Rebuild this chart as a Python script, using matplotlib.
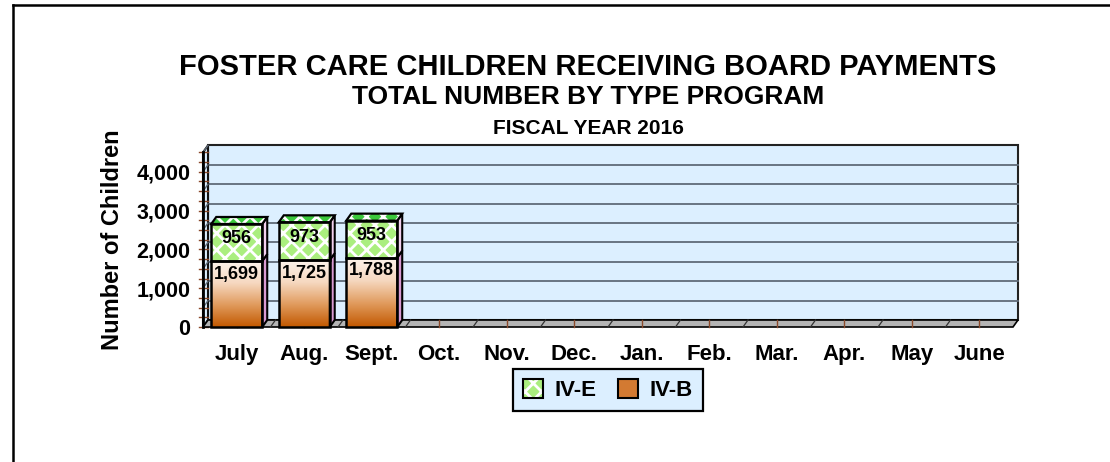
import numpy as np
import matplotlib
matplotlib.use('Agg')
import matplotlib.pyplot as plt
from matplotlib.patches import Rectangle, Polygon, Patch
from matplotlib.legend_handler import HandlerTuple
from matplotlib.colors import LinearSegmentedColormap
from matplotlib.lines import Line2D

# ---------------- data ----------------
months = ['July', 'Aug.', 'Sept.', 'Oct.', 'Nov.', 'Dec.',
          'Jan.', 'Feb.', 'Mar.', 'Apr.', 'May', 'June']
iv_b = [1699, 1725, 1788]
iv_e = [956, 973, 953]
series_names = ['IV-E', 'IV-B']
yticks = [0, 1000, 2000, 3000, 4000]
ytick_labels = ['0', '1,000', '2,000', '3,000', '4,000']
title1 = 'FOSTER CARE CHILDREN RECEIVING BOARD PAYMENTS'
title2 = 'TOTAL NUMBER BY TYPE PROGRAM'
title3 = 'FISCAL YEAR 2016'
ylabel = 'Number of Children'
ymax = 4500
grid_step = 500
minor_step = 250

# ---------------- style ----------------
plt.rcParams['font.family'] = ['Liberation Sans', 'DejaVu Sans']
plt.rcParams['font.weight'] = 'bold'
plt.rcParams['hatch.linewidth'] = 2.0

W, H = 1110, 462
fig = plt.figure(figsize=(W / 100, H / 100), dpi=100)
fig.patch.set_facecolor('white')

# front plane of the pseudo-3D box (pixel coords, from top)
L, R, B, T = 203, 1013, 327, 152.4
ax = fig.add_axes([L / W, (H - B) / H, (R - L) / W, (B - T) / H])
n = len(months)
ax.set_xlim(-0.5, n - 0.5)
ax.set_ylim(0, ymax)
for s in ax.spines.values():
    s.set_visible(False)
ax.patch.set_visible(False)

px_x = (R - L) / n          # pixels per category
px_y = (B - T) / ymax       # pixels per unit
dx = 5 / px_x               # depth offset in data units
dy = 7 / px_y

wall_c = '#dcefff'
grid_c = '#5f6b78'
floor_c = '#b4b4b4'
tick_c = '#8b4a2b'
x0w, x1w = -0.5, n - 0.5

# back wall
ax.add_patch(Rectangle((x0w + dx, dy), n, ymax, facecolor=wall_c,
                       edgecolor='#222222', lw=1.5, zorder=1, clip_on=False))
# gridlines on back wall
for v in range(grid_step, ymax, grid_step):
    ax.plot([x0w + dx, x1w + dx], [v + dy, v + dy], color=grid_c, lw=1.3,
            zorder=2, clip_on=False)
# left side wall
ax.add_patch(Polygon([(x0w, 0), (x0w + dx, dy), (x0w + dx, ymax + dy), (x0w, ymax)],
                     closed=True, facecolor=wall_c, edgecolor='#111111', lw=1.5,
                     zorder=2, clip_on=False))
for v in range(0, ymax + 1, grid_step):
    ax.plot([x0w, x0w + dx], [v, v + dy], color=grid_c, lw=1.0, zorder=2.5, clip_on=False)
for v in range(0, ymax + 1, minor_step):
    ax.plot([x0w - 4 / px_x, x0w + dx], [v, v], color=tick_c, lw=1.0, zorder=2.6,
            clip_on=False)
ax.plot([x0w, x0w], [0, ymax], color='black', lw=2.0, zorder=2.7, clip_on=False)

# floor
ax.add_patch(Polygon([(x0w, 0), (x1w, 0), (x1w + dx, dy), (x0w + dx, dy)], closed=True,
                     facecolor=floor_c, edgecolor='black', lw=1.2, zorder=3, clip_on=False))
for k in range(1, n):
    ax.plot([k - 0.5, k - 0.5 + dx], [0, dy], color='#333333', lw=0.9, zorder=3.1,
            clip_on=False)
for k in range(n):
    ax.plot([k, k], [0, dy], color=tick_c, lw=1.0, zorder=3.1, clip_on=False)

# ---------------- bars ----------------
cmap = LinearSegmentedColormap.from_list('ivb', ['#c25800', '#e09a5c', '#f6d8c0', '#fdf3ec'])
grad = np.linspace(0, 1, 256).reshape(-1, 1)
bw = 0.755
green = '#aaee7e'
green_top = '#3cc83c'
for i, (b, e) in enumerate(zip(iv_b, iv_e)):
    xa, xb = i - bw / 2, i + bw / 2
    t = b + e
    # IV-B front (gradient)
    im = ax.imshow(grad, extent=(xa, xb, 0, b), origin='lower', cmap=cmap,
                   aspect='auto', zorder=4, interpolation='bilinear')
    clip = Rectangle((xa, 0), bw, b, transform=ax.transData, facecolor='none',
                     edgecolor='none')
    im.set_clip_path(clip)
    ax.add_patch(Rectangle((xa, 0), bw, b, facecolor='none', edgecolor='black',
                           lw=1.8, zorder=5, clip_on=False))
    # IV-B side
    ax.add_patch(Polygon([(xb, 0), (xb + dx, dy), (xb + dx, b + dy), (xb, b)], closed=True,
                         facecolor='#d99ad2', edgecolor='black', lw=1.5, zorder=4.5,
                         clip_on=False))
    # IV-E front
    ax.add_patch(Rectangle((xa, b), bw, e, facecolor=green, hatch='xx',
                           edgecolor='white', lw=0, zorder=4, clip_on=False))
    ax.add_patch(Rectangle((xa, b), bw, e, facecolor='none', edgecolor='black',
                           lw=1.8, zorder=5, clip_on=False))
    # IV-E side
    ax.add_patch(Polygon([(xb, b), (xb + dx, b + dy), (xb + dx, t + dy), (xb, t)],
                         closed=True, facecolor='#f2d0ee', edgecolor='black', lw=1.5,
                         zorder=4.5, clip_on=False))
    # top face
    top = [(xa, t), (xa + dx, t + dy), (xb + dx, t + dy), (xb, t)]
    ax.add_patch(Polygon(top, closed=True, facecolor=green_top, hatch='xx',
                         edgecolor='white', lw=0, zorder=4.6, clip_on=False))
    ax.add_patch(Polygon(top, closed=True, facecolor='none', edgecolor='black',
                         lw=1.6, zorder=5, clip_on=False))
    # labels
    ax.text(i, b + e / 2 + dy * 0.55, f'{e:,}', ha='center', va='center',
            fontsize=13, fontweight='bold', zorder=10)
    ax.text(i, b - 120, f'{b:,}', ha='center', va='top',
            fontsize=13, fontweight='bold', zorder=10)

ax.set_xlim(-0.5, n - 0.5)
ax.set_ylim(0, ymax)

# ---------------- axes text ----------------
ax.set_yticks(yticks, ytick_labels)
ax.set_xticks(range(n), months)
ax.tick_params(axis='y', length=0, pad=9, labelsize=15.5)
ax.tick_params(axis='x', length=0, pad=12, labelsize=16)
for lab in ax.get_xticklabels() + ax.get_yticklabels():
    lab.set_fontweight('bold')
ax.set_ylabel(ylabel, fontsize=17, fontweight='bold', labelpad=9)

# titles
cx = 588 / W
fig.text(cx, 1 - 67 / H, title1, ha='center', va='center', fontsize=21, fontweight='bold')
fig.text(cx, 1 - 97 / H, title2, ha='center', va='center', fontsize=19, fontweight='bold')
fig.text(cx, 1 - 128 / H, title3, ha='center', va='center', fontsize=15, fontweight='bold')

# legend
h_e = (Patch(facecolor=green, hatch='xx', edgecolor='white', lw=0),
       Patch(facecolor='none', edgecolor='black', lw=1.5))
h_b = Patch(facecolor='#d37a32', edgecolor='black', lw=1.5)
leg = fig.legend([h_e, h_b], series_names, loc='center',
                 bbox_to_anchor=(608 / W, 1 - 390 / H), ncol=2, fontsize=16,
                 frameon=True, fancybox=False, edgecolor='black', facecolor=wall_c,
                 framealpha=1, handlelength=0.9, handleheight=0.9, handletextpad=0.5,
                 columnspacing=1.0, borderpad=0.45,
                 handler_map={tuple: HandlerTuple(ndivide=1, pad=0)})
leg.get_frame().set_linewidth(1.6)
for tx in leg.get_texts():
    tx.set_fontweight('bold')

# figure border (left and top)
fig.add_artist(Line2D([13 / W, 13 / W], [0, 1 - 5 / H], color='black', lw=1.8,
                      transform=fig.transFigure))
fig.add_artist(Line2D([13 / W, 1], [1 - 5 / H, 1 - 5 / H], color='black', lw=1.8,
                      transform=fig.transFigure))

fig.savefig('out.png', dpi=100)
